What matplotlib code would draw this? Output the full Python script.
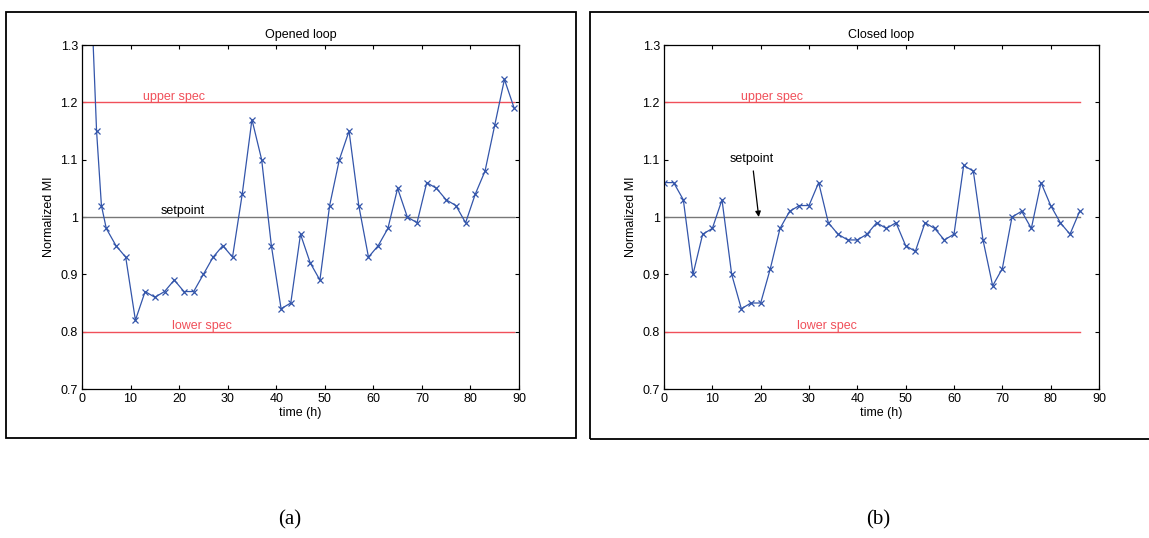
import matplotlib
matplotlib.use("Agg")
import matplotlib.pyplot as plt
from matplotlib.patches import Rectangle

# ---- data ----
open_t = [1, 3, 4, 5, 7, 9, 11, 13, 15, 17, 19, 21, 23, 25, 27, 29, 31, 33, 35, 37,
          39, 41, 43, 45, 47, 49, 51, 53, 55, 57, 59, 61, 63, 65, 67, 69, 71, 73, 75,
          77, 79, 81, 83, 85, 87, 89]
open_mi = [1.58, 1.15, 1.02, 0.98, 0.95, 0.93, 0.82, 0.87, 0.86, 0.87, 0.89, 0.87, 0.87,
           0.90, 0.93, 0.95, 0.93, 1.04, 1.17, 1.10, 0.95, 0.84, 0.85, 0.97, 0.92, 0.89,
           1.02, 1.10, 1.15, 1.02, 0.93, 0.95, 0.98, 1.05, 1.00, 0.99, 1.06, 1.05, 1.03,
           1.02, 0.99, 1.04, 1.08, 1.16, 1.24, 1.19]

closed_t = [0, 2, 4, 6, 8, 10, 12, 14, 16, 18, 20, 22, 24, 26, 28, 30, 32, 34, 36, 38,
            40, 42, 44, 46, 48, 50, 52, 54, 56, 58, 60, 62, 64, 66, 68, 70, 72, 74, 76,
            78, 80, 82, 84, 86]
closed_mi = [1.06, 1.06, 1.03, 0.90, 0.97, 0.98, 1.03, 0.90, 0.84, 0.85, 0.85, 0.91,
             0.98, 1.01, 1.02, 1.02, 1.06, 0.99, 0.97, 0.96, 0.96, 0.97, 0.99, 0.98,
             0.99, 0.95, 0.94, 0.99, 0.98, 0.96, 0.97, 1.09, 1.08, 0.96, 0.88, 0.91,
             1.00, 1.01, 0.98, 1.06, 1.02, 0.99, 0.97, 1.01]

upper_spec = 1.2
lower_spec = 0.8
setpoint = 1.0
open_line_end = [0, 89]
closed_line_end = [0, 86]

xticks = [0, 10, 20, 30, 40, 50, 60, 70, 80, 90]
yticks = [0.7, 0.8, 0.9, 1.0, 1.1, 1.2, 1.3]
ytick_labels = ["0.7", "0.8", "0.9", "1", "1.1", "1.2", "1.3"]

plt.rcParams['font.family'] = ['Liberation Sans', 'DejaVu Sans']

W, H = 1149, 538
fig = plt.figure(figsize=(W / 100, H / 100), dpi=100)

# panel boxes
def px_rect(x0, y0, x1, y1):
    return Rectangle((x0 / W, 1 - y1 / H), (x1 - x0) / W, (y1 - y0) / H,
                     transform=fig.transFigure, fill=False, edgecolor='black',
                     linewidth=1.3, zorder=0)

fig.patches.append(px_rect(6, 12, 576, 438))
fig.patches.append(px_rect(590, 12, 1170, 439))

blue = '#3355AA'
red = '#F0505A'
grey = '#777777'
fs = 9

def make_axes(left_px, right_px, title, t, mi, line_end):
    top_px, bot_px = 45, 389
    ax = fig.add_axes([left_px / W, 1 - bot_px / H, (right_px - left_px) / W,
                       (bot_px - top_px) / H])
    ax.plot(line_end, [upper_spec, upper_spec], color=red, lw=1.0)
    ax.plot(line_end, [lower_spec, lower_spec], color=red, lw=1.0)
    ax.plot(line_end, [setpoint, setpoint], color=grey, lw=1.0)
    ax.plot(t, mi, color=blue, lw=0.9, marker='x', markersize=4, markeredgewidth=0.9)
    ax.set_xlim(0, 90)
    ax.set_ylim(0.7, 1.3)
    ax.set_xticks(xticks)
    ax.set_yticks(yticks)
    ax.set_yticklabels(ytick_labels)
    ax.tick_params(direction='in', top=True, right=True, length=3, width=0.8,
                   labelsize=fs, pad=3)
    for s in ax.spines.values():
        s.set_linewidth(0.9)
    ax.set_title(title, fontsize=fs, pad=5)
    ax.set_xlabel('time (h)', fontsize=fs, labelpad=1)
    ax.set_ylabel('Normalized MI', fontsize=fs, labelpad=4)
    return ax

ax1 = make_axes(82, 519, 'Opened loop', open_t, open_mi, open_line_end)
ax1.text(19, 1.199, 'upper spec', color=red, fontsize=fs, ha='center', va='bottom')
ax1.text(24.7, 0.799, 'lower spec', color=red, fontsize=fs, ha='center', va='bottom')
ax1.text(20.8, 1.0, 'setpoint', color='black', fontsize=fs, ha='center', va='bottom')

ax2 = make_axes(664, 1099, 'Closed loop', closed_t, closed_mi, closed_line_end)
ax2.text(22.4, 1.199, 'upper spec', color=red, fontsize=fs, ha='center', va='bottom')
ax2.text(33.7, 0.799, 'lower spec', color=red, fontsize=fs, ha='center', va='bottom')
ax2.annotate('setpoint', xy=(19.6, 1.0), xytext=(18.2, 1.09),
             fontsize=fs, ha='center', va='bottom',
             arrowprops=dict(arrowstyle='-|>', color='black', lw=0.9,
                             mutation_scale=8, shrinkA=2, shrinkB=0))

fig.text(290 / W, 1 - 520 / H, '(a)', fontsize=15, ha='center', va='center',
         family=['Liberation Serif', 'DejaVu Serif'])
fig.text(878 / W, 1 - 520 / H, '(b)', fontsize=15, ha='center', va='center',
         family=['Liberation Serif', 'DejaVu Serif'])

fig.savefig('out.png', dpi=100)
